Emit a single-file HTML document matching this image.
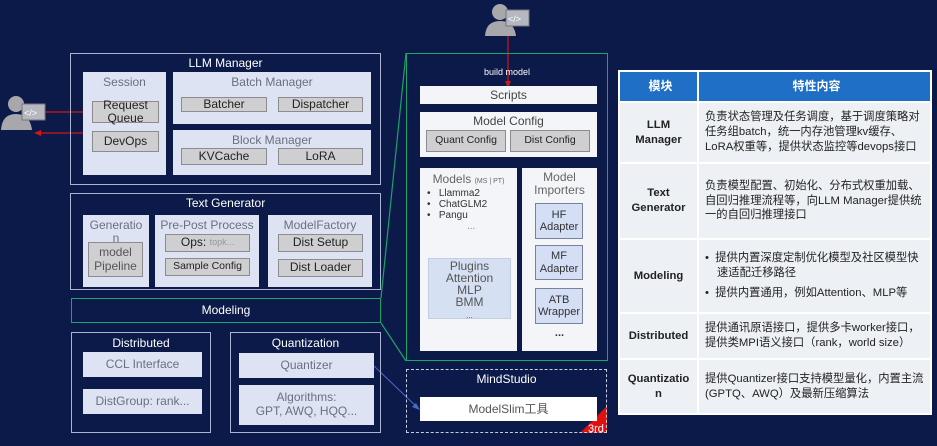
<!DOCTYPE html>
<html><head><meta charset="utf-8"><style>
*{margin:0;padding:0;box-sizing:border-box}
body{width:937px;height:446px;background:#0b1a48;position:relative;overflow:hidden;font-family:"Liberation Sans","Noto Sans CJK SC",sans-serif}
.a{position:absolute}
.o{position:absolute;border:1.5px solid #aab4d2}
.t{position:absolute;color:#fff;font-size:12px;text-align:center;width:100%}
.p{position:absolute;background:#dde3f2;color:#6a7080;font-size:12px;text-align:center}
.g{position:absolute;background:#cfcfd2;border:1px solid #8c8c90;color:#222;font-size:12px;text-align:center;display:flex;align-items:center;justify-content:center;line-height:1.1}
.w{position:absolute;background:#f4f5f8;color:#444;font-size:12px;text-align:center;display:flex;align-items:center;justify-content:center}
.b{position:absolute;background:#d4def5;border:1px solid #7a8298;color:#333;font-size:11px;text-align:center;display:flex;align-items:center;justify-content:center;line-height:1.1}
table{position:absolute;left:618px;top:70px;width:314px;height:343px;border-collapse:collapse;font-family:"Liberation Sans","Noto Sans CJK SC",sans-serif}
td{border:2px solid #fff;background:#edf0f5;font-size:11.3px;color:#222;line-height:1.3;padding:0 2px 0 6px}
td.h{background:#1f6fc6;color:#fff;font-weight:bold;text-align:center;font-size:12px}
td.k{font-weight:bold;text-align:center;width:79px;padding:0 2px}
</style></head><body>
<svg class="a" style="left:0;top:0" width="937" height="446">
<line x1="381" y1="298" x2="406" y2="53" stroke="#1aa36a" stroke-width="1.2"/>
<line x1="381" y1="323" x2="406" y2="361" stroke="#1aa36a" stroke-width="1.2"/>
<line x1="374" y1="366" x2="418" y2="408" stroke="#4a6ad0" stroke-width="1"/>
<polygon points="420,410 412,407 416,403" fill="#4a6ad0"/>
<line x1="508" y1="30" x2="508" y2="84" stroke="#d01818" stroke-width="1.2"/>
<polygon points="508,88 505,81 511,81" fill="#d01818"/>
<line x1="36" y1="112" x2="90" y2="112" stroke="#d01818" stroke-width="1.2"/>
<polygon points="92,112 85,109 85,115" fill="#d01818"/><polygon points="34,112 41,109 41,115" fill="#d01818"/>
<line x1="36" y1="133" x2="90" y2="133" stroke="#d01818" stroke-width="1.2"/>
<polygon points="92,133 85,130 85,136" fill="#d01818"/><polygon points="34,133 41,130 41,136" fill="#d01818"/>
<circle cx="16" cy="104" r="8" fill="#a8a8ac"/><path d="M1,130 Q2,114 16,114 Q30,114 32,130Z" fill="#a8a8ac"/>
<rect x="22" y="104" width="23" height="16" fill="#b5b8c0" stroke="#777"/><text x="24" y="116" font-size="9" fill="#fff" font-family="Liberation Sans">&lt;/&gt;</text>
<circle cx="500" cy="12" r="8" fill="#a8a8ac"/><path d="M485,36 Q486,21 500,21 Q514,21 516,36Z" fill="#a8a8ac"/>
<rect x="506" y="10" width="23" height="16" fill="#b5b8c0" stroke="#777"/><text x="508" y="22" font-size="9" fill="#fff" font-family="Liberation Sans">&lt;/&gt;</text>
<polygon points="607,406 607,433 580,433" fill="#e01010"/>
<text x="588" y="432" font-size="11" fill="#fff" font-family="Liberation Sans">3rd</text>
</svg>

<div class="o" style="left:70px;top:53px;width:311px;height:132px"><div class="t" style="top:2px">LLM Manager</div></div>
<div class="p" style="left:83px;top:72px;width:83px;height:103px;padding-top:3px">Session</div>
<div class="g" style="left:92px;top:101px;width:67px;height:22px">Request<br>Queue</div>
<div class="g" style="left:92px;top:131px;width:67px;height:21px">DevOps</div>
<div class="p" style="left:173px;top:72px;width:198px;height:52px;padding-top:3px">Batch Manager</div>
<div class="g" style="left:181px;top:97px;width:86px;height:15px">Batcher</div>
<div class="g" style="left:278px;top:97px;width:85px;height:15px">Dispatcher</div>
<div class="p" style="left:173px;top:130px;width:198px;height:45px;padding-top:3px">Block Manager</div>
<div class="g" style="left:181px;top:148px;width:86px;height:17px">KVCache</div>
<div class="g" style="left:278px;top:148px;width:85px;height:17px">LoRA</div>

<div class="o" style="left:70px;top:193px;width:311px;height:97px"><div class="t" style="top:2px">Text Generator</div></div>
<div class="p" style="left:83px;top:215px;width:66px;height:72px;padding-top:4px;line-height:1.1">Generatio<br>n</div>
<div class="g" style="left:88px;top:242px;width:55px;height:35px;color:#555">model<br>Pipeline</div>
<div class="p" style="left:155px;top:215px;width:104px;height:72px;padding-top:3px">Pre-Post Process</div>
<div class="g" style="left:165px;top:234px;width:85px;height:18px">Ops:&nbsp;<span style="color:#999;font-size:9px">topk...</span></div>
<div class="g" style="left:165px;top:258px;width:85px;height:18px;font-size:10.5px">Sample Config</div>
<div class="p" style="left:268px;top:215px;width:104px;height:72px;padding-top:3px">ModelFactory</div>
<div class="g" style="left:278px;top:234px;width:85px;height:18px">Dist Setup</div>
<div class="g" style="left:278px;top:259px;width:85px;height:18px">Dist Loader</div>

<div class="a" style="left:71px;top:298px;width:310px;height:25px;border:1.5px solid #1aa36a;color:#fff;font-size:12px;text-align:center;line-height:22px">Modeling</div>

<div class="o" style="left:71px;top:332px;width:140px;height:101px"><div class="t" style="top:3px">Distributed</div></div>
<div class="p" style="left:83px;top:352px;width:119px;height:25px;line-height:25px">CCL Interface</div>
<div class="p" style="left:83px;top:389px;width:119px;height:25px;line-height:25px">DistGroup: rank...</div>
<div class="o" style="left:230px;top:332px;width:151px;height:101px"><div class="t" style="top:3px">Quantization</div></div>
<div class="p" style="left:239px;top:353px;width:135px;height:25px;line-height:25px">Quantizer</div>
<div class="p" style="left:239px;top:385px;width:135px;height:40px;padding-top:6px;line-height:1.15">Algorithms:<br>GPT, AWQ, HQQ...</div>

<div class="a" style="left:406px;top:53px;width:202px;height:308px;border:1.5px solid #1aa36a"></div>
<div class="a" style="left:406px;top:67px;width:202px;text-align:center;color:#fff;font-size:9px">build model</div>
<div class="w" style="left:420px;top:86px;width:177px;height:18px">Scripts</div>
<div class="w" style="left:420px;top:112px;width:177px;height:45px;align-items:flex-start;padding-top:2px">Model Config</div>
<div class="g" style="left:426px;top:130px;width:80px;height:22px;font-size:10.5px">Quant Config</div>
<div class="g" style="left:510px;top:130px;width:80px;height:22px;font-size:10.5px">Dist Config</div>
<div class="w" style="left:420px;top:168px;width:97px;height:183px;display:block;text-align:left">
<div style="text-align:center;margin-top:4px;color:#666">Models <span style="font-size:7px">(MS | PT)</span></div>
<div style="font-size:10px;color:#333;margin-left:7px;line-height:11px;margin-top:2px">•&nbsp;&nbsp; Llamma2<br>•&nbsp;&nbsp; ChatGLM2<br>•&nbsp;&nbsp; Pangu<br><span style="margin-left:40px;color:#888">...</span></div></div>
<div class="a" style="left:428px;top:258px;width:83px;height:61px;background:#d6e0f3;border:1px solid #c5cde0;color:#555;font-size:12px;text-align:center;line-height:12px;padding-top:1px">Plugins<br>Attention<br>MLP<br>BMM<br><span style="font-size:8px">...</span></div>
<div class="w" style="left:522px;top:168px;width:75px;height:183px;align-items:flex-start;padding-top:3px;line-height:1.1;color:#666">Model<br>Importers</div>
<div class="b" style="left:535px;top:203px;width:48px;height:36px">HF<br>Adapter</div>
<div class="b" style="left:535px;top:245px;width:48px;height:35px">MF<br>Adapter</div>
<div class="b" style="left:535px;top:288px;width:48px;height:36px">ATB<br>Wrapper</div>
<div class="a" style="left:522px;top:327px;width:75px;text-align:center;color:#333;font-size:11px;font-weight:bold">...</div>

<div class="a" style="left:406px;top:369px;width:201px;height:64px;border:1.5px dashed #c8cde0"></div>
<div class="a" style="left:406px;top:372px;width:201px;text-align:center;color:#fff;font-size:12px">MindStudio</div>
<div class="a" style="left:420px;top:397px;width:177px;height:24px;background:#fff;color:#555;font-size:12px;text-align:center;line-height:24px">ModelSlim工具</div>

<table>
<tr style="height:31px"><td class="h">模块</td><td class="h">特性内容</td></tr>
<tr style="height:61px"><td class="k">LLM<br>Manager</td><td>负责状态管理及任务调度，基于调度策略对任务组batch，统一内存池管理kv缓存、LoRA权重等，提供状态监控等devops接口</td></tr>
<tr style="height:76px"><td class="k">Text<br>Generator</td><td>负责模型配置、初始化、分布式权重加载、自回归推理流程等，向LLM Manager提供统一的自回归推理接口</td></tr>
<tr style="height:74px"><td class="k">Modeling</td><td><div style="padding-left:12px;text-indent:-12px">•&nbsp;&nbsp;提供内置深度定制优化模型及社区模型快速适配迁移路径</div><div style="padding-left:12px;text-indent:-12px;margin-top:6px">•&nbsp;&nbsp;提供内置通用，例如Attention、MLP等</div></td></tr>
<tr style="height:46px"><td class="k">Distributed</td><td>提供通讯原语接口，提供多卡worker接口，提供类MPI语义接口（rank，world size）</td></tr>
<tr style="height:55px"><td class="k">Quantizatio<br>n</td><td>提供Quantizer接口支持模型量化，内置主流(GPTQ、AWQ）及最新压缩算法</td></tr>
</table>
</body></html>
